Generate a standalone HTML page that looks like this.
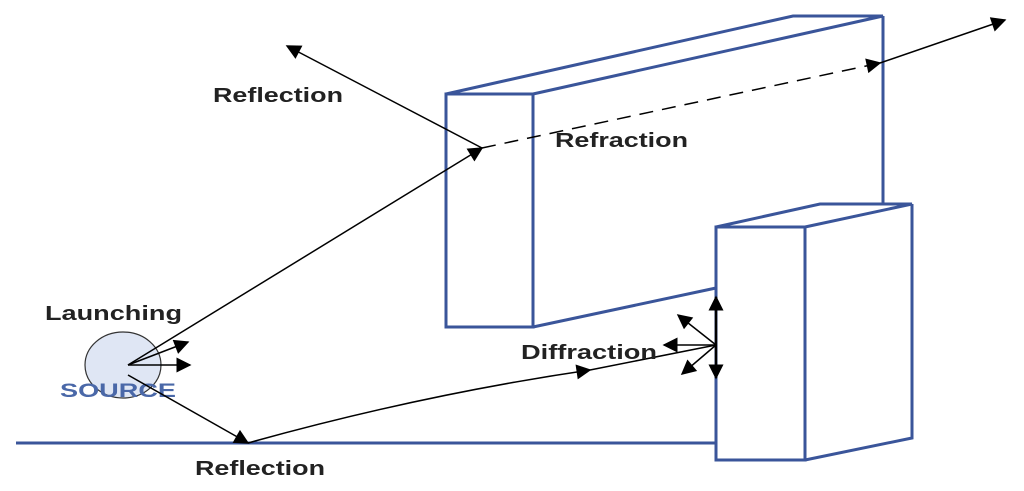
<!DOCTYPE html>
<html><head><style>
html,body{margin:0;padding:0;background:#fff;}
svg{display:block;}
text{font-family:"Liberation Sans",sans-serif;font-weight:bold;font-size:20px;fill:#222;}
</style></head><body>
<svg width="1024" height="491" viewBox="0 0 1024 491" xmlns="http://www.w3.org/2000/svg">
<defs>
<marker id="b" viewBox="0 0 10 10" refX="9" refY="5" markerWidth="24" markerHeight="15" markerUnits="userSpaceOnUse" orient="auto"><path d="M0,0 L10,5 L0,10 z" fill="#000"/></marker>
</defs>
<g fill="none" stroke="#3a559a" stroke-width="3">
<rect x="446" y="94" width="87" height="233" fill="#fff"/>
<path d="M446,94 L793,16 L883,16 L533,94"/>
<path d="M883,16 L883,205"/>
<path d="M533,327 L716,288"/>
<rect x="716" y="227" width="89" height="233" fill="#fff"/>
<path d="M716,227 L820,204 L912,204 L805,227"/>
<path d="M912,204 L912,438 L805,460"/>
<path d="M16,443 L716,443"/>
</g>
<ellipse cx="123" cy="365" rx="38" ry="33" fill="#dfe6f4" stroke="#333" stroke-width="1.2"/>
<text x="60" y="397" textLength="116" lengthAdjust="spacingAndGlyphs" style="fill:#4a68a8;font-size:19px">SOURCE</text>
<g stroke="#000" stroke-width="1.5" fill="none">
<path d="M128,365 L482,148" marker-end="url(#b)"/>
<path d="M482,148 L287,46" marker-end="url(#b)"/>
<path d="M482,148 L880,63" stroke-dasharray="14,9" marker-end="url(#b)"/>
<path d="M880,63 L1005,20" marker-end="url(#b)"/>
<path d="M128,365 L190,365" marker-end="url(#b)"/>
<path d="M128,365 L188,342" marker-end="url(#b)"/>
<path d="M128,375 L248,443" marker-end="url(#b)"/>
<path d="M248,443 Q420,395 590,370" marker-end="url(#b)"/>
<path d="M590,370 L716,345"/>
<path d="M716,345 L716,297" stroke-width="2.5" marker-end="url(#b)"/>
<path d="M716,345 L716,378" stroke-width="2.5" marker-end="url(#b)"/>
<path d="M716,345 L664,345" marker-end="url(#b)"/>
<path d="M716,345 L678,315" marker-end="url(#b)"/>
<path d="M716,345 L682,374" marker-end="url(#b)"/>
</g>
<text x="213" y="102" textLength="130" lengthAdjust="spacingAndGlyphs">Reflection</text>
<text x="555" y="147" textLength="133" lengthAdjust="spacingAndGlyphs">Refraction</text>
<text x="45" y="320" textLength="137" lengthAdjust="spacingAndGlyphs">Launching</text>
<text x="521" y="359" textLength="136" lengthAdjust="spacingAndGlyphs">Diffraction</text>
<text x="195" y="475" textLength="130" lengthAdjust="spacingAndGlyphs">Reflection</text>
</svg>
</body></html>
